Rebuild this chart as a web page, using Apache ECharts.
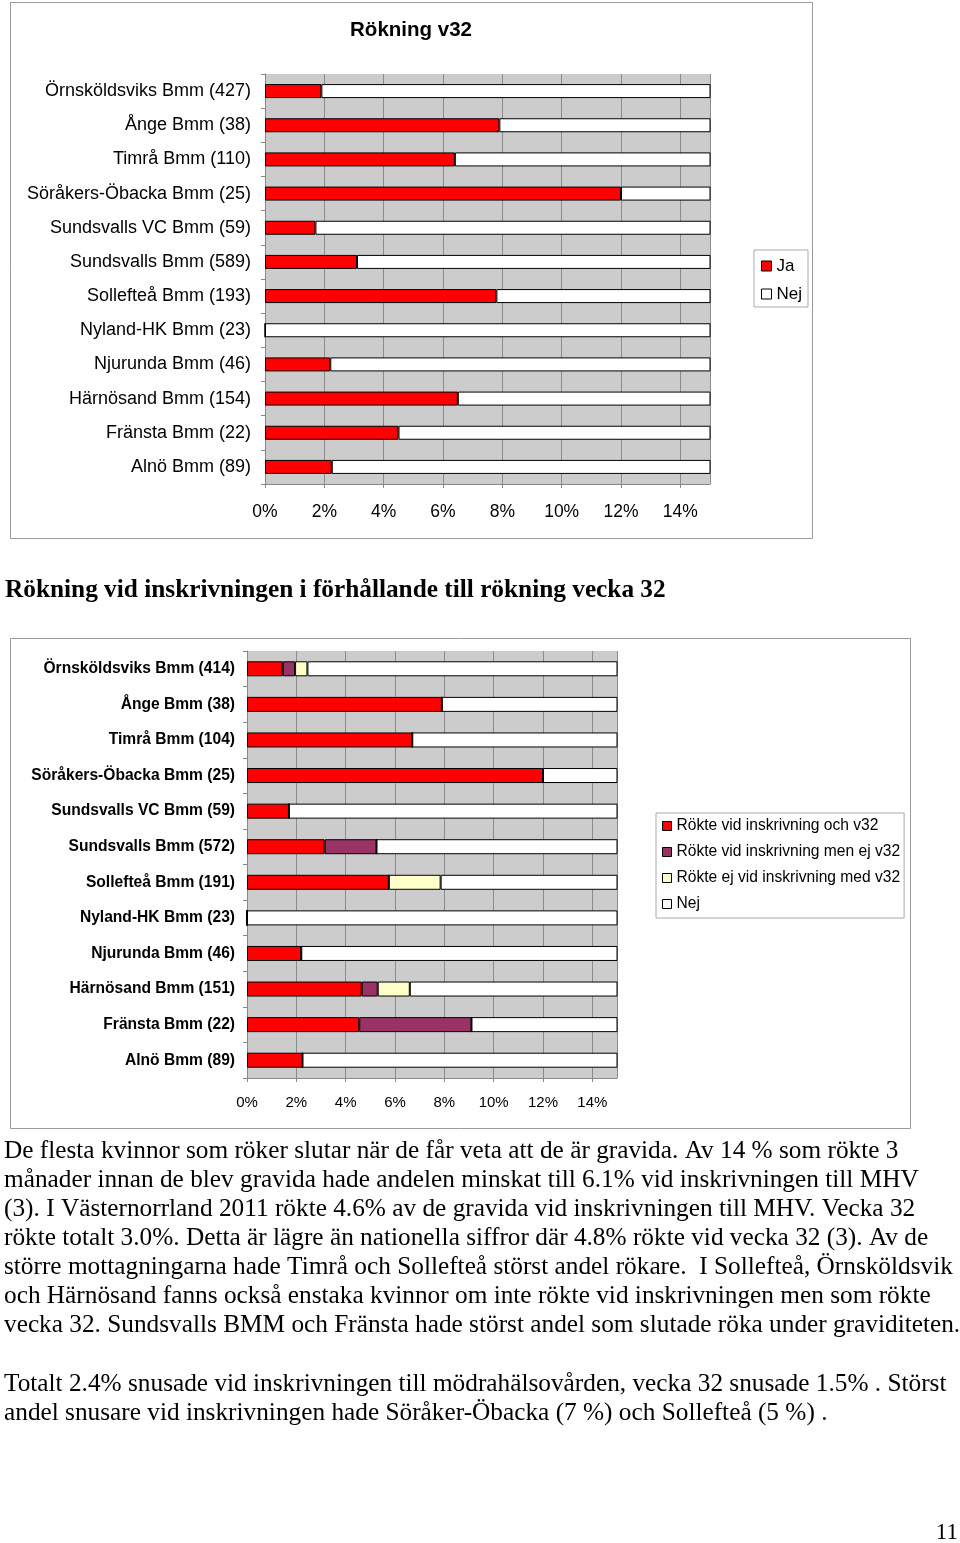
<!DOCTYPE html>
<html>
<head>
<meta charset="utf-8">
<script src="https://cdn.jsdelivr.net/npm/echarts@6/dist/echarts.min.js"></script>
<style>
html,body{margin:0;padding:0;background:#fff;}
#main{width:960px;height:1543px;}
</style>
</head>
<body>
<div id="main"></div>
<script>
// ---------- Data: chart 1 "Rökning v32" ----------
const categories1 = ["Örnsköldsviks Bmm (427)","Ånge Bmm (38)","Timrå Bmm (110)","Söråkers-Öbacka Bmm (25)","Sundsvalls VC Bmm (59)","Sundsvalls Bmm (589)","Sollefteå Bmm (193)","Nyland-HK Bmm (23)","Njurunda Bmm (46)","Härnösand Bmm (154)","Fränsta Bmm (22)","Alnö Bmm (89)"];
const ja1  = [1.9, 7.9, 6.4, 12.0, 1.7, 3.1, 7.8, 0, 2.2, 6.5, 4.5, 2.25];
const nej1 = [98.1, 92.1, 93.6, 88.0, 98.3, 96.9, 92.2, 100, 97.8, 93.5, 95.5, 97.75];

// ---------- Data: chart 2 ----------
const categories2 = ["Örnsköldsviks Bmm (414)","Ånge Bmm (38)","Timrå Bmm (104)","Söråkers-Öbacka Bmm (25)","Sundsvalls VC Bmm (59)","Sundsvalls Bmm (572)","Sollefteå Bmm (191)","Nyland-HK Bmm (23)","Njurunda Bmm (46)","Härnösand Bmm (151)","Fränsta Bmm (22)","Alnö Bmm (89)"];
const rokteOchV32   = [1.45, 7.9, 6.7, 12.0, 1.7, 3.15, 5.75, 0, 2.2, 4.65, 4.55, 2.25];
const rokteMenEjV32 = [0.5, 0, 0, 0, 0, 2.1, 0, 0, 0, 0.65, 4.55, 0];
const rokteEjMedV32 = [0.5, 0, 0, 0, 0, 0, 2.1, 0, 0, 1.3, 0, 0];
const nej2          = [97.55, 92.1, 93.3, 88.0, 98.3, 94.75, 92.15, 100, 97.8, 93.4, 90.9, 97.75];

// axis ticks (percent)
const xMin = 0, xMax = 15, xStep = 2;

// ---------- Text ----------
const chart1Title = "Rökning v32";
const sectionHeading = "Rökning vid inskrivningen i förhållande till rökning vecka 32";
const paragraph1 = [
  "De flesta kvinnor som röker slutar när de får veta att de är gravida. Av 14 % som rökte 3",
  "månader innan de blev gravida hade andelen minskat till 6.1% vid inskrivningen till MHV",
  "(3). I Västernorrland 2011 rökte 4.6% av de gravida vid inskrivningen till MHV. Vecka 32",
  "rökte totalt 3.0%. Detta är lägre än nationella siffror där 4.8% rökte vid vecka 32 (3). Av de",
  "större mottagningarna hade Timrå och Sollefteå störst andel rökare.  I Sollefteå, Örnsköldsvik",
  "och Härnösand fanns också enstaka kvinnor om inte rökte vid inskrivningen men som rökte",
  "vecka 32. Sundsvalls BMM och Fränsta hade störst andel som slutade röka under graviditeten."
];
const paragraph2 = [
  "Totalt 2.4% snusade vid inskrivningen till mödrahälsovården, vecka 32 snusade 1.5% . Störst",
  "andel snusare vid inskrivningen hade Söråker-Öbacka (7 %) och Sollefteå (5 %) ."
];
const pageNumber = "11";

const SANS = '"Liberation Sans", Arial, sans-serif';
const SERIF = '"Liberation Serif", "Times New Roman", serif';

const chart = echarts.init(document.getElementById('main'), null, {renderer:'canvas'});

const barBorder = {borderColor:'#000', borderWidth:1};

function xAxisCfg(gridIndex, fontSize, margin){
  return {
    type:'value', gridIndex, min:xMin, max:xMax, interval:xStep,
    axisLabel:{formatter:v=>v+'%', fontFamily:SANS, fontSize, color:'#000', margin, showMaxLabel:false},
    axisLine:{show:true, lineStyle:{color:'#888', width:1}},
    axisTick:{show:true, length:4, lineStyle:{color:'#888'}},
    splitLine:{show:true, lineStyle:{color:'#8c8c8c', width:1}}
  };
}
function yAxisCfg(gridIndex, data, fontSize, margin, bold){
  return {
    type:'category', gridIndex, data, inverse:true,
    axisLabel:{fontFamily:SANS, fontSize, color:'#000', margin, fontWeight: bold?'bold':'normal'},
    axisLine:{show:true, lineStyle:{color:'#888', width:1}},
    axisTick:{show:true, length:4, lineStyle:{color:'#888'}},
    splitLine:{show:false}
  };
}

const TEXT_FONT = '25.3px ' + SERIF;
const graphics = [
  {type:'rect', shape:{x:10.5, y:2.5, width:802, height:536}, style:{fill:null, stroke:'#9a9a9a', lineWidth:1}, silent:true, z:-10},
  {type:'rect', shape:{x:10.5, y:638.5, width:900, height:490}, style:{fill:null, stroke:'#9a9a9a', lineWidth:1}, silent:true, z:-10},
  {type:'text', x:411, y:30, style:{text:chart1Title, font:'bold 20.5px '+SANS, fill:'#000', align:'center', verticalAlign:'middle'}},
  {type:'text', x:5, y:590, style:{text:sectionHeading, font:'bold 25.3px '+SERIF, fill:'#000', align:'left', verticalAlign:'middle'}},
  {type:'text', x:958, y:1533, style:{text:pageNumber, font:'23px '+SERIF, fill:'#000', align:'right', verticalAlign:'middle'}}
];
paragraph1.forEach((t,i)=>graphics.push({type:'text', x:4, y:1151+29*i, style:{text:t, font:TEXT_FONT, fill:'#000', align:'left', verticalAlign:'middle'}}));
paragraph2.forEach((t,i)=>graphics.push({type:'text', x:4, y:1384+29*i, style:{text:t, font:TEXT_FONT, fill:'#000', align:'left', verticalAlign:'middle'}}));

const option = {
  animation:false,
  backgroundColor:'#fff',
  grid:[
    {left:265, top:74, width:445, height:410, show:true, backgroundColor:'#cccccc', borderWidth:0},
    {left:247, top:651, width:370, height:427, show:true, backgroundColor:'#cccccc', borderWidth:0}
  ],
  xAxis:[ xAxisCfg(0, 17.5, 19), xAxisCfg(1, 15, 17) ],
  yAxis:[ yAxisCfg(0, categories1, 18, 14, false), yAxisCfg(1, categories2, 15.6, 12, true) ],
  legend:[
    {
      data:['Ja','Nej'], orient:'vertical', left:754, top:250,
      itemWidth:10, itemHeight:10, itemGap:10, padding:[7,6,4,7],
      borderColor:'#aaa', borderWidth:1, backgroundColor:'#fff',
      icon:'rect', itemStyle:{borderColor:'#000', borderWidth:1},
      textStyle:{fontFamily:SANS, fontSize:17, color:'#000', lineHeight:18},
      selectedMode:false
    },
    {
      data:['Rökte vid inskrivning och v32','Rökte vid inskrivning men ej v32','Rökte ej vid inskrivning med v32',{name:'Nej '}],
      orient:'vertical', left:656, top:813,
      itemWidth:9, itemHeight:9, itemGap:10, padding:[5,4,6,6],
      borderColor:'#aaa', borderWidth:1, backgroundColor:'#fff',
      icon:'rect', itemStyle:{borderColor:'#000', borderWidth:1},
      textStyle:{fontFamily:SANS, fontSize:15.6, color:'#000', lineHeight:16},
      formatter: n => n.trim(),
      selectedMode:false
    }
  ],
  series:[
    {name:'Ja', type:'bar', xAxisIndex:0, yAxisIndex:0, stack:'c1', barWidth:14, data:ja1, itemStyle:Object.assign({color:'#ff0000'}, barBorder)},
    {name:'Nej', type:'bar', xAxisIndex:0, yAxisIndex:0, stack:'c1', barWidth:14, data:nej1, itemStyle:Object.assign({color:'#ffffff'}, barBorder)},
    {name:'Rökte vid inskrivning och v32', type:'bar', xAxisIndex:1, yAxisIndex:1, stack:'c2', barWidth:15, data:rokteOchV32, itemStyle:Object.assign({color:'#ff0000'}, barBorder)},
    {name:'Rökte vid inskrivning men ej v32', type:'bar', xAxisIndex:1, yAxisIndex:1, stack:'c2', barWidth:15, data:rokteMenEjV32, itemStyle:Object.assign({color:'#993366'}, barBorder)},
    {name:'Rökte ej vid inskrivning med v32', type:'bar', xAxisIndex:1, yAxisIndex:1, stack:'c2', barWidth:15, data:rokteEjMedV32, itemStyle:Object.assign({color:'#ffffcc'}, barBorder)},
    {name:'Nej ', type:'bar', xAxisIndex:1, yAxisIndex:1, stack:'c2', barWidth:15, data:nej2, itemStyle:Object.assign({color:'#ffffff'}, barBorder)}
  ],
  graphic:graphics
};
chart.setOption(option);
</script>
</body>
</html>
